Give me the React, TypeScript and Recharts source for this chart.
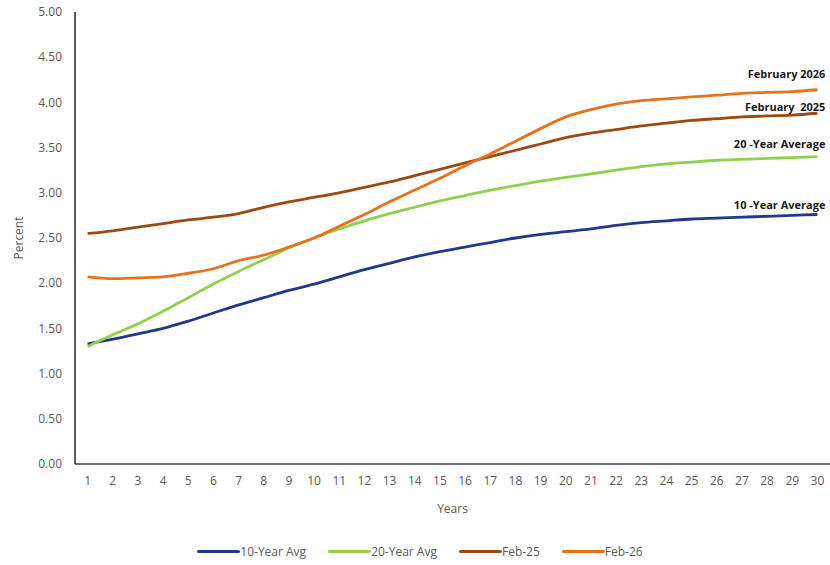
import React from 'react';
import { LineChart, Line, XAxis, YAxis, Legend, Label } from 'recharts';

const years = Array.from({ length: 30 }, (_, i) => i + 1);
const yTicks = [0, 0.5, 1, 1.5, 2, 2.5, 3, 3.5, 4, 4.5, 5];

const avg10 = [1.33, 1.38, 1.44, 1.5, 1.58, 1.67, 1.76, 1.84, 1.92, 1.99, 2.07, 2.15, 2.22, 2.29, 2.35, 2.4, 2.45, 2.5, 2.54, 2.57, 2.6, 2.64, 2.67, 2.69, 2.71, 2.72, 2.73, 2.74, 2.75, 2.76];
const avg20 = [1.3, 1.43, 1.55, 1.69, 1.84, 1.99, 2.13, 2.26, 2.39, 2.5, 2.6, 2.69, 2.77, 2.84, 2.91, 2.97, 3.03, 3.08, 3.13, 3.17, 3.21, 3.25, 3.29, 3.32, 3.34, 3.36, 3.37, 3.38, 3.39, 3.4];
const feb25 = [2.55, 2.58, 2.62, 2.66, 2.7, 2.73, 2.77, 2.84, 2.9, 2.95, 3.0, 3.06, 3.12, 3.19, 3.26, 3.33, 3.4, 3.47, 3.54, 3.61, 3.66, 3.7, 3.74, 3.77, 3.8, 3.82, 3.84, 3.85, 3.86, 3.88];
const feb26 = [2.07, 2.05, 2.06, 2.07, 2.11, 2.16, 2.25, 2.31, 2.4, 2.5, 2.63, 2.76, 2.9, 3.03, 3.16, 3.3, 3.43, 3.57, 3.71, 3.84, 3.92, 3.98, 4.02, 4.04, 4.06, 4.08, 4.1, 4.11, 4.12, 4.14];

const data = years.map((y, i) => ({
  year: y,
  avg10: avg10[i],
  avg20: avg20[i],
  feb25: feb25[i],
  feb26: feb26[i],
}));

const SERIES = [
  { key: 'avg10', name: '10-Year Avg', color: '#1f3a8a', end: '10 -Year Average', dy: 10 },
  { key: 'avg20', name: '20-Year Avg', color: '#8fd14f', end: '20 -Year Average', dy: 13 },
  { key: 'feb25', name: 'Feb-25', color: '#9c4a12', end: 'February  2025', dy: 7 },
  { key: 'feb26', name: 'Feb-26', color: '#e8711c', end: 'February 2026', dy: 16 },
];

const FONT = '"Open Sans", "Liberation Sans", sans-serif';

// only the last point gets the series name, right-aligned above the line end
const endLabel = (text: string, dy: number) => (props: any) => {
  const { x, y, index } = props;
  if (index !== years.length - 1) return null;
  return (
    <text
      x={Number(x) + 8}
      y={Number(y) - dy}
      textAnchor="end"
      dominantBaseline="central"
      style={{ fontSize: 11, fontWeight: 700, fill: '#1a1a1a', fontFamily: FONT, whiteSpace: 'pre' }}
    >
      {text}
    </text>
  );
};

const renderLegend = () => (
  <div style={{ display: 'flex', justifyContent: 'center', paddingLeft: 32, paddingTop: 8, fontFamily: FONT, fontSize: 12, color: '#595959' }}>
    {SERIES.map((s) => (
      <div key={s.key} style={{ display: 'flex', alignItems: 'center', marginRight: 22 }}>
        <span style={{ display: 'inline-block', width: 43, height: 3, background: s.color, borderRadius: 2 }} />
        <span>{s.name}</span>
      </div>
    ))}
  </div>
);

const App: React.FC = () => {
  return (
    <div style={{ position: 'absolute', left: 0, top: 0, width: 830, height: 565, background: '#fff' }}>
      <LineChart width={830} height={565} data={data} margin={{ top: 12, right: 0, left: 0, bottom: 0 }}>
        <XAxis
          dataKey="year"
          type="number"
          domain={[0.5, 30.5]}
          ticks={years}
          interval={0}
          tickLine={false}
          tickMargin={6}
          height={71}
          axisLine={{ stroke: '#404040', strokeWidth: 1.5 }}
          tick={{ fontSize: 12, fill: '#595959', fontFamily: FONT }}
        >
          <Label value="Years" position="insideBottom" offset={22} style={{ fontSize: 12, fill: '#595959', fontFamily: FONT }} />
        </XAxis>
        <YAxis
          domain={[0, 5]}
          ticks={yTicks}
          interval={0}
          width={75}
          tickLine={false}
          tickMargin={7}
          axisLine={{ stroke: '#262626', strokeWidth: 1.5 }}
          tickFormatter={(v: number) => v.toFixed(2)}
          tick={{ fontSize: 12, fill: '#595959', fontFamily: FONT }}
        >
          <Label
            content={(p: any) => {
              const vb = p.viewBox || {};
              const cx = 18;
              const cy = vb.y + vb.height / 2;
              return (
                <text x={cx} y={cy} transform={`rotate(-90, ${cx}, ${cy})`} textAnchor="middle" dominantBaseline="central"
                  style={{ fontSize: 12, fill: '#595959', fontFamily: FONT }}>
                  Percent
                </text>
              );
            }}
          />
        </YAxis>
        <Legend verticalAlign="bottom" height={30} content={renderLegend} />
        {SERIES.map((s) => (
          <Line
            key={s.key}
            type="monotone"
            dataKey={s.key}
            name={s.name}
            stroke={s.color}
            strokeWidth={2.8}
            dot={false}
            isAnimationActive={false}
            label={endLabel(s.end, s.dy)}
          />
        ))}
      </LineChart>
    </div>
  );
};

export default App;
